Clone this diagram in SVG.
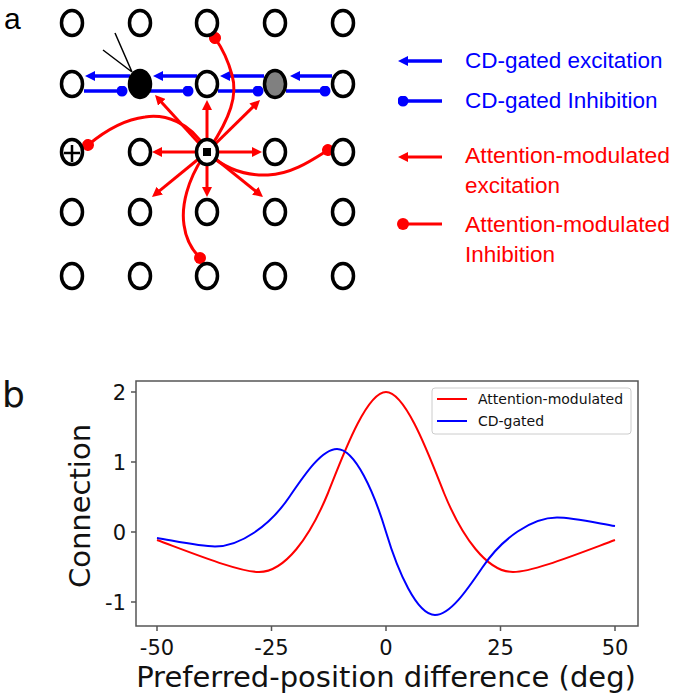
<svg xmlns="http://www.w3.org/2000/svg" width="675" height="700" viewBox="0 0 675 700">
<style>
.n{fill:#fff;stroke:#000;stroke-width:3.5}
.rd{fill:none;stroke:#f00;stroke-width:3}
.bl{fill:none;stroke:#00f;stroke-width:3.5}
.lg{font-family:"Liberation Sans",Arial,sans-serif;font-size:22.5px}
.mp{font-family:"DejaVu Sans",sans-serif;fill:#111}
.tk{stroke:#555;stroke-width:1.5}
</style>
<defs>
<marker id="ar" viewBox="0 0 10 10" markerWidth="10" markerHeight="10" refX="2" refY="5" orient="auto" markerUnits="userSpaceOnUse"><path d="M0,0 L10,5 L0,10 z" fill="#f00"/></marker>
<marker id="ab" viewBox="0 0 10 10" markerWidth="10" markerHeight="10" refX="2" refY="5" orient="auto" markerUnits="userSpaceOnUse"><path d="M0,0 L10,5 L0,10 z" fill="#00f"/></marker>
<marker id="dr" viewBox="0 0 12 12" markerWidth="12" markerHeight="12" refX="6" refY="6" orient="auto" markerUnits="userSpaceOnUse"><circle cx="6" cy="6" r="6" fill="#f00"/></marker>
<marker id="db" viewBox="0 0 11 11" markerWidth="11" markerHeight="11" refX="5.5" refY="5.5" orient="auto" markerUnits="userSpaceOnUse"><circle cx="5.5" cy="5.5" r="5.5" fill="#00f"/></marker>
</defs>
<rect width="675" height="700" fill="#fff"/>
<text x="4" y="29" font-family="Liberation Sans,Arial,sans-serif" font-size="30">a</text>

<g id="connectors">
<!-- CD-gated excitation -->
<path class="bl" d="M130,76 L93,76" marker-end="url(#ab)"/>
<path class="bl" d="M197,76 L161,76" marker-end="url(#ab)"/>
<path class="bl" d="M264,76 L228,76" marker-end="url(#ab)"/>
<path class="bl" d="M332,76 L298,76" marker-end="url(#ab)"/>
<!-- CD-gated inhibition -->
<path class="bl" d="M84,91 L122,91" marker-end="url(#db)"/>
<path class="bl" d="M150,91 L188,91" marker-end="url(#db)"/>
<path class="bl" d="M218,91 L258,91" marker-end="url(#db)"/>
<path class="bl" d="M286,91 L325,91" marker-end="url(#db)"/>
<!-- attention-modulated excitation -->
<path class="rd" d="M207,152 L160.4,100.9" marker-end="url(#ar)"/>
<path class="rd" d="M207,152 L207,108" marker-end="url(#ar)"/>
<path class="rd" d="M207,152 L254.3,105.6" marker-end="url(#ar)"/>
<path class="rd" d="M207,152 L160,152" marker-end="url(#ar)"/>
<path class="rd" d="M207,152 L254,152" marker-end="url(#ar)"/>
<path class="rd" d="M207,152 L158.2,191.9" marker-end="url(#ar)"/>
<path class="rd" d="M207,152 L207,189" marker-end="url(#ar)"/>
<path class="rd" d="M207,152 L256.8,192" marker-end="url(#ar)"/>
<!-- attention-modulated inhibition -->
<path class="rd" d="M210,148 C230,118 238,95 232,75 C228,60 222,48 215,38" marker-end="url(#dr)"/>
<path class="rd" d="M205,148 C190,122 165,114 145,117 C120,120 100,135 88,145" marker-end="url(#dr)"/>
<path class="rd" d="M210,155 C225,168 245,176 268,175 C292,174 312,160 328,150" marker-end="url(#dr)"/>
<path class="rd" d="M203,157 C188,180 181,205 184,225 C186,240 192,250 200,258" marker-end="url(#dr)"/>
<!-- read-out lines -->
<path d="M132,72 L103,50 M132,72 L115,33" stroke="#000" stroke-width="1.5" fill="none"/>
</g>

<g id="nodes">
<g id="r1"><ellipse class="n" cx="72" cy="23" rx="10.5" ry="12.5"/><ellipse class="n" cx="140" cy="23" rx="10.5" ry="12.5"/><ellipse class="n" cx="207" cy="23" rx="10.5" ry="12.5"/><ellipse class="n" cx="275" cy="23" rx="10.5" ry="12.5"/><ellipse class="n" cx="343" cy="23" rx="10.5" ry="12.5"/></g>
<g id="r2"><ellipse class="n" cx="72" cy="84" rx="10.5" ry="12.5"/><ellipse id="black" cx="140" cy="84" rx="10.5" ry="13.5" fill="#000" stroke="#000" stroke-width="3.5"/><ellipse class="n" cx="207" cy="84" rx="10.5" ry="12.5"/><ellipse id="gray" cx="275" cy="84" rx="10.5" ry="13.5" fill="#808080" stroke="#000" stroke-width="3.5"/><ellipse class="n" cx="343" cy="84" rx="10.5" ry="12.5"/></g>
<g id="r3"><g id="plus"><ellipse class="n" cx="72" cy="152" rx="10.5" ry="12.5"/><path d="M64,153 L80,153 M72,145 L72,162" stroke="#000" stroke-width="2.5"/></g><ellipse class="n" cx="140" cy="152" rx="10.5" ry="12.5"/><g id="center"><ellipse class="n" cx="207" cy="152" rx="10.5" ry="12.5"/><rect x="203" y="148" width="8" height="8" fill="#000"/></g><ellipse class="n" cx="275" cy="152" rx="10.5" ry="12.5"/><ellipse class="n" cx="343" cy="152" rx="10.5" ry="12.5"/></g>
<g id="r4"><ellipse class="n" cx="72" cy="212" rx="10.5" ry="12.5"/><ellipse class="n" cx="140" cy="212" rx="10.5" ry="12.5"/><ellipse class="n" cx="207" cy="212" rx="10.5" ry="12.5"/><ellipse class="n" cx="275" cy="212" rx="10.5" ry="12.5"/><ellipse class="n" cx="343" cy="212" rx="10.5" ry="12.5"/></g>
<g id="r5"><ellipse class="n" cx="72" cy="276" rx="10.5" ry="12.5"/><ellipse class="n" cx="140" cy="276" rx="10.5" ry="12.5"/><ellipse class="n" cx="207" cy="276" rx="10.5" ry="12.5"/><ellipse class="n" cx="275" cy="276" rx="10.5" ry="12.5"/><ellipse class="n" cx="343" cy="276" rx="10.5" ry="12.5"/></g>
</g>

<g id="legend-a">
<path class="bl" d="M442,61 L406,61" marker-end="url(#ab)"/>
<text class="lg" x="465" y="68" fill="#00f">CD-gated excitation</text>
<path class="bl" d="M442,101 L403,101" marker-end="url(#db)"/>
<text class="lg" x="465" y="108" fill="#00f">CD-gated Inhibition</text>
<path class="rd" d="M442,157 L406,157" marker-end="url(#ar)"/>
<text class="lg" x="465" y="163" fill="#f00" textLength="205" lengthAdjust="spacingAndGlyphs">Attention-modulated</text>
<text class="lg" x="465" y="193" fill="#f00">excitation</text>
<path class="rd" d="M442,224 L403,224" marker-end="url(#dr)"/>
<text class="lg" x="465" y="232" fill="#f00" textLength="205" lengthAdjust="spacingAndGlyphs">Attention-modulated</text>
<text class="lg" x="465" y="262" fill="#f00">Inhibition</text>
</g>

<g id="plot">
<text class="mp" x="2" y="407" font-size="36">b</text>
<path d="M157,540 C200,556 240,572 259,572 C285,572 310,537 328,493 C342,458 366,392 386,392 C406,392 430,458 444,493 C462,537 487,572 513,572 C532,572 572,556 615,540" fill="none" stroke="#f00" stroke-width="2"/>
<path d="M157,538 C175,541 200,546.5 215,546.5 C240,546.5 270,526 290,496 C305,474 322,449 337,449 C355,449 374,492 386,532 C398,572 417,615 435,615 C450,615 467,590 482,568 C502,538 532,517.5 557,517.5 C572,517.5 597,523 615,526" fill="none" stroke="#00f" stroke-width="2"/>
<rect x="136" y="381" width="502" height="245" fill="none" stroke="#555" stroke-width="1.5"/>
<path class="tk" d="M131,392 H136 M131,462 H136 M131,532 H136 M131,602 H136 M157,626 V631 M271.5,626 V631 M386,626 V631 M500.5,626 V631 M615,626 V631"/>
<g class="mp" font-size="21" text-anchor="end">
<text x="126" y="400">2</text><text x="126" y="470">1</text><text x="126" y="540">0</text><text x="126" y="610">-1</text>
</g>
<g class="mp" font-size="21" text-anchor="middle">
<text x="157" y="655">-50</text><text x="271.5" y="655">-25</text><text x="386" y="655">0</text><text x="500.5" y="655">25</text><text x="615" y="655">50</text>
</g>
<text class="mp" x="386" y="687" font-size="29" text-anchor="middle">Preferred-position difference (deg)</text>
<text class="mp" transform="translate(90,506) rotate(-90)" font-size="29" text-anchor="middle">Connection</text>
<g id="legend-b">
<rect x="432" y="388" width="199" height="46" rx="3" fill="#fff" fill-opacity="0.8" stroke="#ccc" stroke-width="1"/>
<path d="M437,399 H467" stroke="#f00" stroke-width="2"/>
<path d="M437,421 H467" stroke="#00f" stroke-width="2"/>
<text class="mp" x="478" y="404" font-size="14">Attention-modulated</text>
<text class="mp" x="478" y="426" font-size="14">CD-gated</text>
</g>
</g>
</svg>
